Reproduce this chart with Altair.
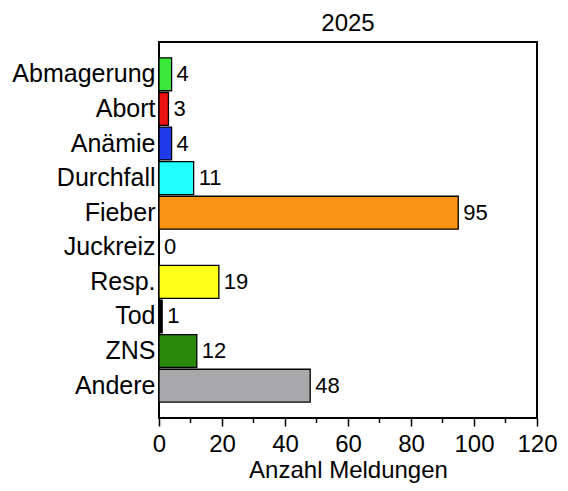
import altair as alt
import pandas as pd

categories = ["Abmagerung", "Abort", "Anämie", "Durchfall", "Fieber", "Juckreiz", "Resp.", "Tod", "ZNS", "Andere"]
values = [4, 3, 4, 11, 95, 0, 19, 1, 12, 48]
colors = ["#3ae83a", "#ee1111", "#1f3ae8", "#22ffff", "#f99313", "#ffffff", "#ffff1a", "#000000", "#298a0a", "#a8a8ab"]
x_ticks = [0, 20, 40, 60, 80, 100, 120]
minor_ticks = [10, 30, 50, 70, 90, 110]

df = pd.DataFrame({"cat": categories, "val": values})
FONT = "Liberation Sans"

y_enc = alt.Y("cat:N", sort=categories,
              scale=alt.Scale(paddingInner=0.05, paddingOuter=0.46),
              axis=alt.Axis(title=None, ticks=False, domain=False, labelFontSize=25,
                            labelFont=FONT, labelColor="black", labelPadding=4, grid=False))
x_scale = alt.Scale(domain=[0, 120], nice=False)

bars = alt.Chart(df).mark_bar(stroke="black", strokeWidth=1.3).encode(
    x=alt.X("val:Q", scale=x_scale,
            axis=alt.Axis(title="Anzahl Meldungen", values=x_ticks, grid=False,
                          domain=False, tickColor="black", tickWidth=1.5, tickSize=8,
                          labelFlush=False, labelOverlap=False,
                          labelFontSize=24, labelFont=FONT, labelColor="black",
                          labelPadding=6, titleFontSize=24, titleFont=FONT,
                          titleFontWeight="normal", titleColor="black", titlePadding=2)),
    y=y_enc,
    color=alt.Color("cat:N", scale=alt.Scale(domain=categories, range=colors), legend=None),
)

labels = alt.Chart(df).mark_text(align="left", baseline="middle", dx=5, fontSize=22,
                                 font=FONT, color="black").encode(
    x=alt.X("val:Q", scale=x_scale),
    y=alt.Y("cat:N", sort=categories),
    text=alt.Text("val:Q"),
)

minor_df = pd.DataFrame({"m": minor_ticks})
minor = alt.Chart(minor_df).mark_rule(color="black", strokeWidth=1.5).encode(
    x=alt.X("m:Q", scale=x_scale),
    y=alt.value(376),
    y2=alt.value(381),
)

chart = alt.layer(bars, labels, minor).properties(
    width=378, height=376,
    background="white",
    title=alt.TitleParams("2025", fontSize=24, font=FONT, fontWeight="normal",
                          color="black", anchor="middle", offset=6),
    autosize=alt.AutoSizeParams(type="none"),
    padding={"left": 151, "top": 34, "right": 23, "bottom": 65},
).configure_view(stroke="black", strokeWidth=2)

chart.save("out.html", embed_options={"renderer": "svg", "actions": False})
